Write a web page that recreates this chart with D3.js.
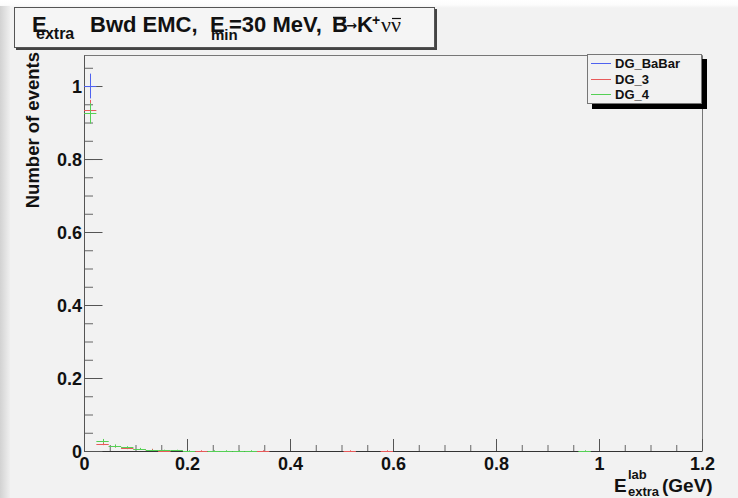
<!DOCTYPE html>
<html>
<head>
<meta charset="utf-8">
<script src="https://cdn.jsdelivr.net/npm/d3@7"></script>
<style>
  html, body { margin: 0; padding: 0; background: #f2f2f2; }
  svg { display: block; font-family: "Liberation Sans", Arial, sans-serif; }
  .tick text { font-weight: bold; font-size: 18px; fill: #111; }
</style>
</head>
<body>
<svg id="chart" width="738" height="498"></svg>
<script>
// histogram bins: [low edge, content, error], bin width 0.024 GeV
const BIN_WIDTH = 0.024;
const seriesNames = ["DG_BaBar", "DG_3", "DG_4"];
const seriesColors = ["#4f62f0", "#e85a5a", "#55d055"];

const babarBins = [
  [0.000, 1.000, 0.034]
];
const dg3Bins = [
  [0.000, 0.934, 0.028],
  [0.024, 0.020, 0.004],
  [0.048, 0.013, 0.0035],
  [0.072, 0.008, 0.003],
  [0.096, 0.005, 0.002],
  [0.120, 0.004, 0.002],
  [0.144, 0.001, 0.001],
  [0.216, 0.001, 0.001],
  [0.336, 0.001, 0.001],
  [0.504, 0.001, 0.001],
  [0.576, 0.001, 0.001]
];
const dg4Bins = [
  [0.000, 0.925, 0.028],
  [0.024, 0.028, 0.005],
  [0.048, 0.014, 0.004],
  [0.072, 0.010, 0.003],
  [0.096, 0.006, 0.0025],
  [0.120, 0.002, 0.0015],
  [0.144, 0.002, 0.0015],
  [0.168, 0.002, 0.0015],
  [0.192, 0.001, 0.001],
  [0.240, 0.001, 0.001],
  [0.264, 0.001, 0.001],
  [0.288, 0.001, 0.001],
  [0.312, 0.001, 0.001],
  [0.960, 0.001, 0.001]
];

const xMajorTicks = [0, 0.2, 0.4, 0.6, 0.8, 1, 1.2];
const xTickLabels = ["0", "0.2", "0.4", "0.6", "0.8", "1", "1.2"];
const yMajorTicks = [0, 0.2, 0.4, 0.6, 0.8, 1];
const yTickLabels = ["0", "0.2", "0.4", "0.6", "0.8", "1"];

const frame = { left: 84, right: 702, top: 55, bottom: 451 };

const svg = d3.select("#chart");

// background: white strip on top, shaded strip at left edge
const defs = svg.append("defs");
const lg = defs.append("linearGradient").attr("id", "leftShade").attr("x1", 0).attr("x2", 1);
lg.append("stop").attr("offset", 0).attr("stop-color", "#d2d2d2");
lg.append("stop").attr("offset", 1).attr("stop-color", "#efefef");
const tg = defs.append("linearGradient").attr("id", "topShade").attr("x1", 0).attr("x2", 0).attr("y1", 0).attr("y2", 1);
tg.append("stop").attr("offset", 0).attr("stop-color", "#ffffff");
tg.append("stop").attr("offset", 0.6).attr("stop-color", "#fcfcfc");
tg.append("stop").attr("offset", 1).attr("stop-color", "#f2f2f2");

svg.append("rect").attr("width", 738).attr("height", 498).attr("fill", "#f2f2f2");
svg.append("rect").attr("width", 738).attr("height", 8).attr("fill", "url(#topShade)");
svg.append("rect").attr("y", 6).attr("width", 10).attr("height", 492).attr("fill", "url(#leftShade)");

const x = d3.scaleLinear().domain([0, 1.2]).range([frame.left, frame.right]);
const y = d3.scaleLinear().domain([0, 1.085]).range([frame.bottom, frame.top]);

// frame top and right
svg.append("path")
  .attr("d", `M${frame.left},${frame.top + 0.5}H${frame.right + 0.5}V${frame.bottom}`)
  .attr("fill", "none").attr("stroke", "#777").attr("stroke-width", 1);

// minor ticks
svg.append("g")
  .attr("transform", `translate(0,${frame.bottom})`)
  .call(d3.axisBottom(x).tickValues(d3.range(0, 1.2001, 0.05)).tickSize(-6).tickFormat(""))
  .call(g => g.select(".domain").remove())
  .call(g => g.selectAll("line").attr("stroke", "#666"));
svg.append("g")
  .attr("transform", `translate(${frame.left},0)`)
  .call(d3.axisLeft(y).tickValues(d3.range(0, 1.0801, 0.05)).tickSize(-9).tickFormat(""))
  .call(g => g.select(".domain").remove())
  .call(g => g.selectAll("line").attr("stroke", "#666"));

// major ticks with labels
const xAxis = svg.append("g")
  .attr("transform", `translate(0,${frame.bottom})`)
  .call(d3.axisBottom(x).tickValues(xMajorTicks).tickSize(-12).tickSizeOuter(0).tickPadding(6)
    .tickFormat((d, i) => xTickLabels[i]));
xAxis.selectAll("line").attr("stroke", "#555");
xAxis.select(".domain").attr("stroke", "#333");

const yAxis = svg.append("g")
  .attr("transform", `translate(${frame.left},0)`)
  .call(d3.axisLeft(y).tickValues(yMajorTicks).tickSize(-18.5).tickSizeOuter(0).tickPadding(2)
    .tickFormat((d, i) => yTickLabels[i]));
yAxis.selectAll("line").attr("stroke", "#555");
yAxis.select(".domain").attr("stroke", "#555");
yAxis.selectAll("text").attr("dy", "0.36em");

// histograms with error bars
const allSeries = [babarBins, dg3Bins, dg4Bins];
allSeries.forEach((bins, si) => {
  const g = svg.append("g").attr("stroke", seriesColors[si]).attr("stroke-width", 1).attr("fill", "none");
  g.selectAll("path.bin")
    .data(bins)
    .join("path")
    .attr("class", "bin")
    .attr("d", d => {
      const x0 = x(d[0]), x1 = x(d[0] + BIN_WIDTH), xc = x(d[0] + BIN_WIDTH / 2);
      const yv = Math.round(y(d[1])) + 0.5;
      return `M${x0},${yv}H${x1}M${Math.round(xc) + 0.5},${y(d[1] + d[2])}V${y(d[1] - d[2])}`;
    });
});

// axis titles
svg.append("text")
  .attr("transform", "translate(39,52) rotate(-90)")
  .attr("text-anchor", "end")
  .attr("font-weight", "bold").attr("font-size", 18.5).attr("fill", "#111")
  .text("Number of events");

const xt = svg.append("text").attr("font-weight", "bold").attr("fill", "#111");
xt.append("tspan").attr("x", 614).attr("y", 492).attr("font-size", 19).text("E");
xt.append("tspan").attr("x", 628).attr("y", 479).attr("font-size", 13).text("lab");
xt.append("tspan").attr("x", 628).attr("y", 496).attr("font-size", 13).text("extra");
xt.append("tspan").attr("x", 662).attr("y", 492).attr("font-size", 19).text("(GeV)");

// title box
svg.append("rect").attr("x", 16).attr("y", 9).attr("width", 421).attr("height", 41).attr("fill", "#444");
svg.append("rect").attr("x", 14.5).attr("y", 7.5).attr("width", 420).attr("height", 40)
  .attr("fill", "#f5f5f5").attr("stroke", "#555");
const tt = svg.append("text").attr("font-weight", "bold").attr("fill", "#111").attr("font-size", 22);
tt.append("tspan").attr("x", 32).attr("y", 32).text("E");
tt.append("tspan").attr("x", 36).attr("y", 39).attr("font-size", 16).text("extra");
tt.append("tspan").attr("x", 90).attr("y", 32).text("Bwd EMC,");
tt.append("tspan").attr("x", 210).attr("y", 32).text("E");
tt.append("tspan").attr("x", 211).attr("y", 40).attr("font-size", 15).text("min");
tt.append("tspan").attr("x", 229).attr("y", 32).text("=30 MeV,");
tt.append("tspan").attr("x", 332).attr("y", 32).text("B");
tt.append("tspan").attr("x", 346).attr("y", 29.5).attr("font-size", 13)
  .attr("font-family", "'DejaVu Sans', sans-serif").text("\u2192");
tt.append("tspan").attr("x", 357).attr("y", 32).text("K");
tt.append("tspan").attr("x", 372).attr("y", 25).attr("font-size", 14).text("+");
const nu = tt.append("tspan").attr("x", 381).attr("y", 32).attr("font-weight", "normal")
  .attr("font-family", "'Liberation Serif', serif").attr("font-size", 22).text("\u03bd\u03bd");
// bars over B and the second nu
svg.append("line").attr("x1", 333).attr("x2", 346).attr("y1", 17.5).attr("y2", 17.5).attr("stroke", "#111").attr("stroke-width", 1.5);
const nuBox = nu.node().getBBox();
const nuHalf = nuBox.width / 2;
svg.append("line").attr("x1", nuBox.x + nuHalf + 1).attr("x2", nuBox.x + nuBox.width)
  .attr("y1", 18.5).attr("y2", 18.5).attr("stroke", "#111").attr("stroke-width", 1.2);

// legend
svg.append("rect").attr("x", 592).attr("y", 59).attr("width", 115).attr("height", 50).attr("fill", "#000");
svg.append("rect").attr("x", 587.5).attr("y", 54.5).attr("width", 114).attr("height", 49)
  .attr("fill", "#f2f2f2").attr("stroke", "#777");
const legendRows = [63, 79, 94];
seriesNames.forEach((name, i) => {
  svg.append("line").attr("x1", 591).attr("x2", 611)
    .attr("y1", legendRows[i] + 0.5).attr("y2", legendRows[i] + 0.5)
    .attr("stroke", seriesColors[i]).attr("stroke-width", 1);
  svg.append("text").attr("x", 615).attr("y", legendRows[i] + 5)
    .attr("font-weight", "bold").attr("font-size", 13).attr("fill", "#111").text(name);
});
</script>
</body>
</html>
